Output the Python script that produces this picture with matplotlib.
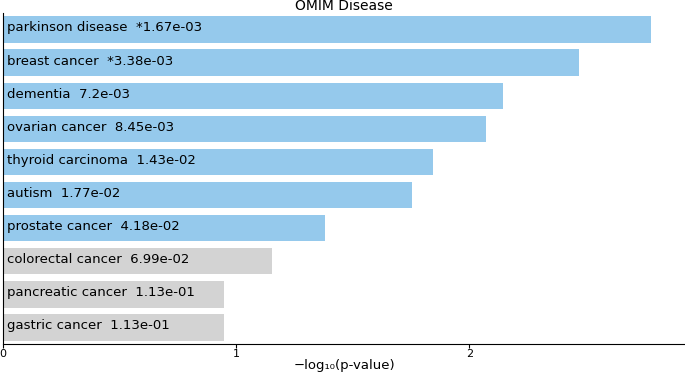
import numpy as np
import matplotlib
matplotlib.use("Agg")
import matplotlib.pyplot as plt

terms = ["parkinson disease", "breast cancer", "dementia", "ovarian cancer",
         "thyroid carcinoma", "autism", "prostate cancer", "colorectal cancer",
         "pancreatic cancer", "gastric cancer"]
pvals = [1.67e-03, 3.38e-03, 7.2e-03, 8.45e-03, 1.43e-02,
         1.77e-02, 4.18e-02, 6.99e-02, 1.13e-01, 1.13e-01]
pval_labels = ["*1.67e-03", "*3.38e-03", "7.2e-03", "8.45e-03", "1.43e-02",
               "1.77e-02", "4.18e-02", "6.99e-02", "1.13e-01", "1.13e-01"]

scores = -np.log10(pvals)
colors = ["#95c9ec" if p < 0.05 else "#d3d3d3" for p in pvals]

fig = plt.figure(figsize=(6.85, 3.73), dpi=100)
ax = fig.add_axes([0.0044, 0.078, 0.9956, 0.887])

y = np.arange(len(terms))
ax.barh(y, scores, height=0.8, color=colors)
for i in range(len(terms)):
    ax.text(0.017, y[i] - 0.05, terms[i] + "  " + pval_labels[i], va="center",
            ha="left", fontsize=9.5)

ax.set_ylim(len(terms) - 0.5, -0.5)
ax.set_xlim(0, scores.max() * 1.053)
ax.set_yticks([])
ax.set_xticks([0, 1, 2])
ax.tick_params(axis="x", labelsize=8, length=3, pad=1)
ax.spines["top"].set_visible(False)
ax.spines["right"].set_visible(False)
ax.set_xlabel("\u2212log\u2081\u2080(p-value)", fontsize=9.5)
ax.xaxis.set_label_coords(0.5, -0.045)
ax.set_title("OMIM Disease", fontsize=10, pad=1)

plt.savefig("out.png", dpi=100)
